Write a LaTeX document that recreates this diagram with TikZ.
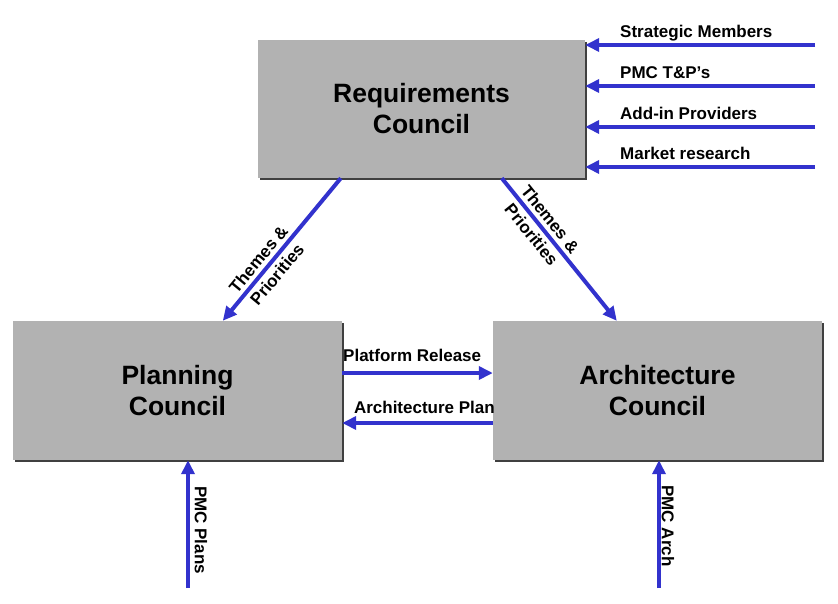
\documentclass[tikz,border=0pt]{standalone}
\usepackage{fontspec}
\setmainfont{Liberation Sans}
\usetikzlibrary{arrows.meta,shadows}
\definecolor{feedblue}{RGB}{50,50,205}
\definecolor{boxgray}{RGB}{178,178,178}
\tikzset{
  council/.style={fill=boxgray, minimum width=327pt, minimum height=138pt, inner sep=0pt,
    align=center, font=\fontsize{26.5}{31}\selectfont\bfseries,
    drop shadow={shadow xshift=2pt, shadow yshift=-2pt, fill=black!75, opacity=1}},
  feed/.style={draw=feedblue, line width=4pt, -{Triangle[length=14pt,width=13pt]}},
  lbl/.style={font=\fontsize{17}{19}\selectfont\bfseries, inner sep=0pt}
}
\begin{document}
\begin{tikzpicture}[x=1pt, y=-1pt]
  \useasboundingbox[fill=white] (0,0) rectangle (838,603);

  \node[council] (req) at (421.5,109) {Requirements\\Council};
  \node[council, minimum width=329pt, minimum height=139pt] (plan) at (177.5,390.5) {Planning\\Council};
  \node[council, minimum width=329pt, minimum height=139pt] (arch) at (657.5,390.5) {Architecture\\Council};

  % inputs to the requirements council
  \foreach \y/\txt [count=\i] in {45/Strategic Members, 86/PMC T\&P’s, 127/Add-in Providers, 167/Market research} {
    \coordinate (src\i) at (815,\y);
    \draw[feed] (src\i) -- (src\i -| req.east);
    \node[lbl, anchor=base west] (in\i) at (620,\y-8) {\txt};
  }

  \draw[feed] ([xshift=83pt]req.south west) --
    node[lbl, sloped, align=center, pos=0.62] (tp1) {Themes \&\\[5pt]Priorities}
    ([xshift=210pt]plan.north west);
  \draw[feed] ([xshift=244pt]req.south west) --
    node[lbl, sloped, align=center, pos=0.34] (tp2) {Themes \&\\[5pt]Priorities}
    ([xshift=124pt]arch.north west);

  \coordinate (pr) at ([yshift=17.5pt]plan.east);
  \coordinate (ap) at ([yshift=-32.5pt]arch.west);
  \draw[feed] (pr) -- (pr -| arch.west);
  \draw[feed] (ap) -- (ap -| plan.east);
  \node[lbl, anchor=base west] (prl) at (343,361) {Platform Release};
  \node[lbl, anchor=base east] (apl) at (495,413) {Architecture Plan};

  \coordinate (pp) at (188,588);
  \coordinate (pa) at (659,588);
  \draw[feed] (pp) -- (pp |- plan.south);
  \draw[feed] (pa) -- (pa |- arch.south);
  \node[lbl, rotate=-90] (ppl) at (201,530) {PMC Plans};
  \node[lbl, rotate=-90] (pal) at (668,526) {PMC Arch};
\end{tikzpicture}
\end{document}
